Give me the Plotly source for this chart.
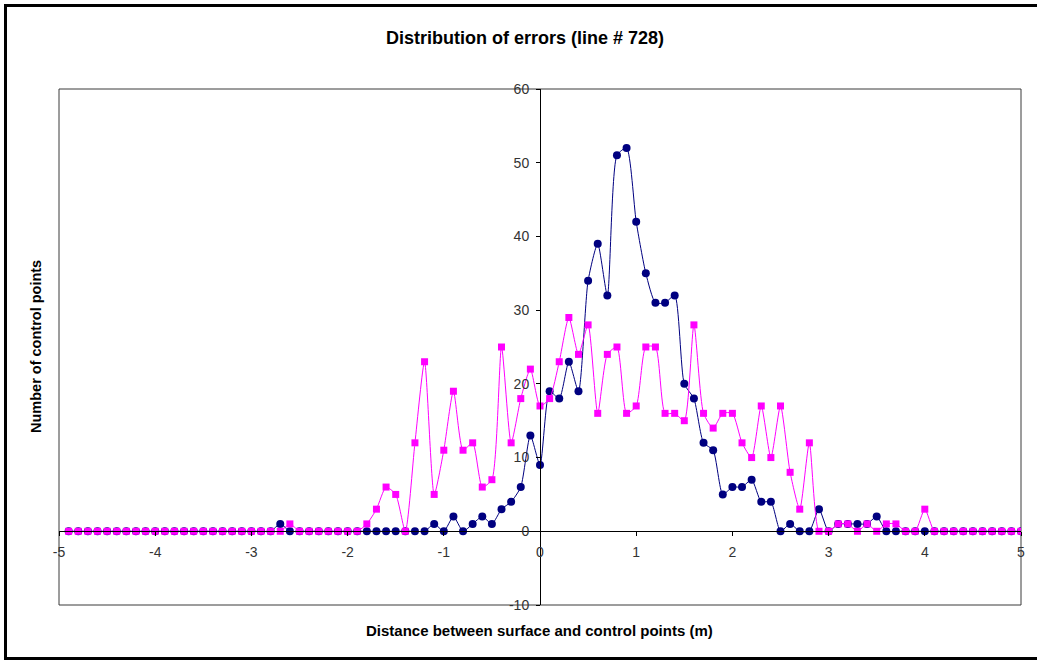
import plotly.graph_objects as go

# x grid (m), -4.9 .. 5.0 step 0.1
distance = [round(-4.9 + 0.1 * i, 1) for i in range(100)]

series_navy = [
    0, 0, 0, 0, 0, 0, 0, 0, 0, 0, 0, 0, 0, 0, 0, 0, 0, 0, 0, 0, 0, 0,   # -4.9 .. -2.8
    1,                                                                 # -2.7
    0, 0, 0, 0, 0, 0, 0, 0, 0, 0, 0, 0, 0, 0, 0,                       # -2.6 .. -1.2
    1, 0, 2, 0, 1, 2, 1, 3, 4, 6, 13,                                  # -1.1 .. -0.1
    9, 19, 18, 23, 19, 34, 39, 32, 51, 52,                             # 0.0 .. 0.9
    42, 35, 31, 31, 32, 20, 18, 12, 11, 5,                             # 1.0 .. 1.9
    6, 6, 7, 4, 4, 0, 1, 0, 0, 3,                                      # 2.0 .. 2.9
    0, 1, 1, 1, 1, 2, 0, 0, 0, 0,                                      # 3.0 .. 3.9
    0,                                                                 # 4.0
    0, 0, 0, 0, 0, 0, 0, 0, 0, 0,                                      # 4.1 .. 5.0
]

series_magenta = [
    0, 0, 0, 0, 0, 0, 0, 0, 0, 0, 0, 0, 0, 0, 0, 0, 0, 0, 0, 0, 0, 0, 0,  # -4.9 .. -2.7
    1,                                                                    # -2.6
    0, 0, 0, 0, 0, 0, 0,                                                  # -2.5 .. -1.9
    1, 3, 6, 5, 0, 12, 23,                                                # -1.8 .. -1.2
    5, 11, 19, 11, 12, 6, 7, 25, 12, 18, 22,                              # -1.1 .. -0.1
    17, 18, 23, 29, 24, 28, 16, 24, 25, 16,                               # 0.0 .. 0.9
    17, 25, 25, 16, 16, 15, 28, 16, 14, 16,                               # 1.0 .. 1.9
    16, 12, 10, 17, 10, 17, 8, 3, 12, 0,                                  # 2.0 .. 2.9
    0, 1, 1, 0, 1, 0, 1, 1, 0, 0,                                         # 3.0 .. 3.9
    3,                                                                    # 4.0
    0, 0, 0, 0, 0, 0, 0, 0, 0, 0,                                         # 4.1 .. 5.0
]

x_ticks = [-5, -4, -3, -2, -1, 0, 1, 2, 3, 4, 5]
y_ticks = [-10, 0, 10, 20, 30, 40, 50, 60]

title_text = "Distribution of errors (line # 728)"
x_title = "Distance between surface and control points (m)"
y_title = "Number of control points"

FONT = "Arial, Liberation Sans, sans-serif"
W, H = 1037, 660
ML, MR, MT, MB = 59, 16, 89, 55
PW, PH = W - ML - MR, H - MT - MB

fig = go.Figure()
fig.add_trace(go.Scatter(
    x=distance, y=series_navy, mode="lines+markers",
    line=dict(color="#000080", width=1, shape="spline", smoothing=0.6),
    marker=dict(symbol="circle", size=8, color="#000080"),
    showlegend=False,
))
fig.add_trace(go.Scatter(
    x=distance, y=series_magenta, mode="lines+markers",
    line=dict(color="#FF00FF", width=1, shape="spline", smoothing=0.6),
    marker=dict(symbol="square", size=7, color="#FF00FF"),
    showlegend=False,
))

def px2paper_x(px):
    return (px - ML) / PW

def px2paper_y(py):
    return (H - MB - py) / PH

fig.update_layout(
    width=W, height=H,
    margin=dict(l=ML, r=MR, t=MT, b=MB),
    paper_bgcolor="white", plot_bgcolor="white",
    font=dict(family=FONT, size=14, color="#000000"),
    xaxis=dict(
        range=[-5, 5], tickvals=x_ticks, ticktext=[str(v) for v in x_ticks],
        anchor="free", position=10 / 70,
        showline=True, linecolor="#000000", linewidth=1,
        ticks="outside", ticklen=4, tickcolor="#000000",
        ticklabelstandoff=4,
        showgrid=False, zeroline=False, domain=[0, 1],
        tickfont=dict(size=14, color="#333333", family=FONT),
    ),
    yaxis=dict(
        range=[-10, 60], tickvals=y_ticks, ticktext=[str(v) for v in y_ticks],
        anchor="free", position=0.5,
        showline=True, linecolor="#000000", linewidth=1,
        ticks="outside", ticklen=4, tickcolor="#000000",
        ticklabelstandoff=4,
        showgrid=False, zeroline=False, domain=[0, 1],
        tickfont=dict(size=14, color="#333333", family=FONT),
    ),
    shapes=[
        dict(type="rect", xref="paper", yref="paper", x0=0, x1=1, y0=0, y1=1,
             line=dict(color="#3a3a3a", width=1), layer="below"),
        dict(type="rect", xref="paper", yref="paper",
             x0=px2paper_x(5.5), x1=px2paper_x(1045),
             y0=px2paper_y(658.5), y1=px2paper_y(5.5),
             line=dict(color="#000000", width=3), layer="above"),
    ],
    annotations=[
        dict(text="<b>" + title_text + "</b>", xref="paper", yref="paper",
             x=px2paper_x(525), y=px2paper_y(38), showarrow=False,
             font=dict(size=18, family=FONT, color="#000000"),
             xanchor="center", yanchor="middle"),
        dict(text="<b>" + x_title + "</b>", xref="paper", yref="paper",
             x=px2paper_x(539), y=px2paper_y(630), showarrow=False,
             font=dict(size=15, family=FONT, color="#000000"),
             xanchor="center", yanchor="middle"),
        dict(text="<b>" + y_title + "</b>", xref="paper", yref="paper",
             x=px2paper_x(36), y=px2paper_y(347), showarrow=False, textangle=-90,
             font=dict(size=14.5, family=FONT, color="#000000"),
             xanchor="center", yanchor="middle"),
    ],
)

fig.write_html("out.html")
